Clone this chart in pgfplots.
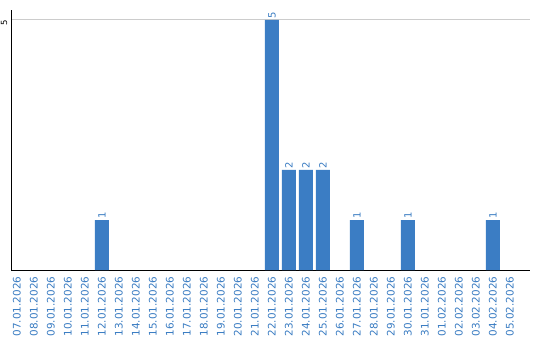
\documentclass[border=0pt]{standalone}
\usepackage{pgfplots}
\pgfplotsset{compat=1.18}
\usepackage{fontspec}
\setmainfont{DejaVu Sans}
\definecolor{barblue}{HTML}{3B7DC4}
\definecolor{lblblue}{HTML}{3A7CC2}
\begin{document}
\begin{tikzpicture}
\useasboundingbox (0pt,0pt) rectangle (540pt,340pt);
\begin{axis}[
  at={(11pt,70pt)}, anchor=south west,
  scale only axis, width=519pt, height=260pt,
  /pgf/number format/assume math mode=true,
  xmin=-0.35, xmax=30.18, ymin=0, ymax=5.2,
  axis x line*=bottom, axis y line*=left,
  axis line style={black, line width=1pt, -},
  xtick={0,...,29},
  xticklabels={07.01.2026,08.01.2026,09.01.2026,10.01.2026,11.01.2026,12.01.2026,13.01.2026,14.01.2026,15.01.2026,16.01.2026,17.01.2026,18.01.2026,19.01.2026,20.01.2026,21.01.2026,22.01.2026,23.01.2026,24.01.2026,25.01.2026,26.01.2026,27.01.2026,28.01.2026,29.01.2026,30.01.2026,31.01.2026,01.02.2026,02.02.2026,03.02.2026,04.02.2026,05.02.2026},
  xticklabel style={rotate=90, anchor=east, inner ysep=0pt, inner xsep=6.5pt, font=\fontsize{10.4}{12}\selectfont, text=lblblue},
  ytick={5},
  yticklabel style={yshift=-3pt, rotate=90, anchor=south, inner xsep=0pt, inner ysep=3.5pt, font=\fontsize{8.5}{10}\selectfont},
  major tick length=0pt,
  ymajorgrids, grid style={draw=black!20, line width=1pt},
  ybar, bar width=14pt,
  nodes near coords,
  nodes near coords style={rotate=90, anchor=west, inner sep=1pt, font=\fontsize{10}{12}\selectfont, text=lblblue},
]
\addplot[fill=barblue, draw=none] coordinates {
(5,1) (15,5) (16,2) (17,2) (18,2) (20,1) (23,1) (28,1)
};
\end{axis}
\end{tikzpicture}
\end{document}
